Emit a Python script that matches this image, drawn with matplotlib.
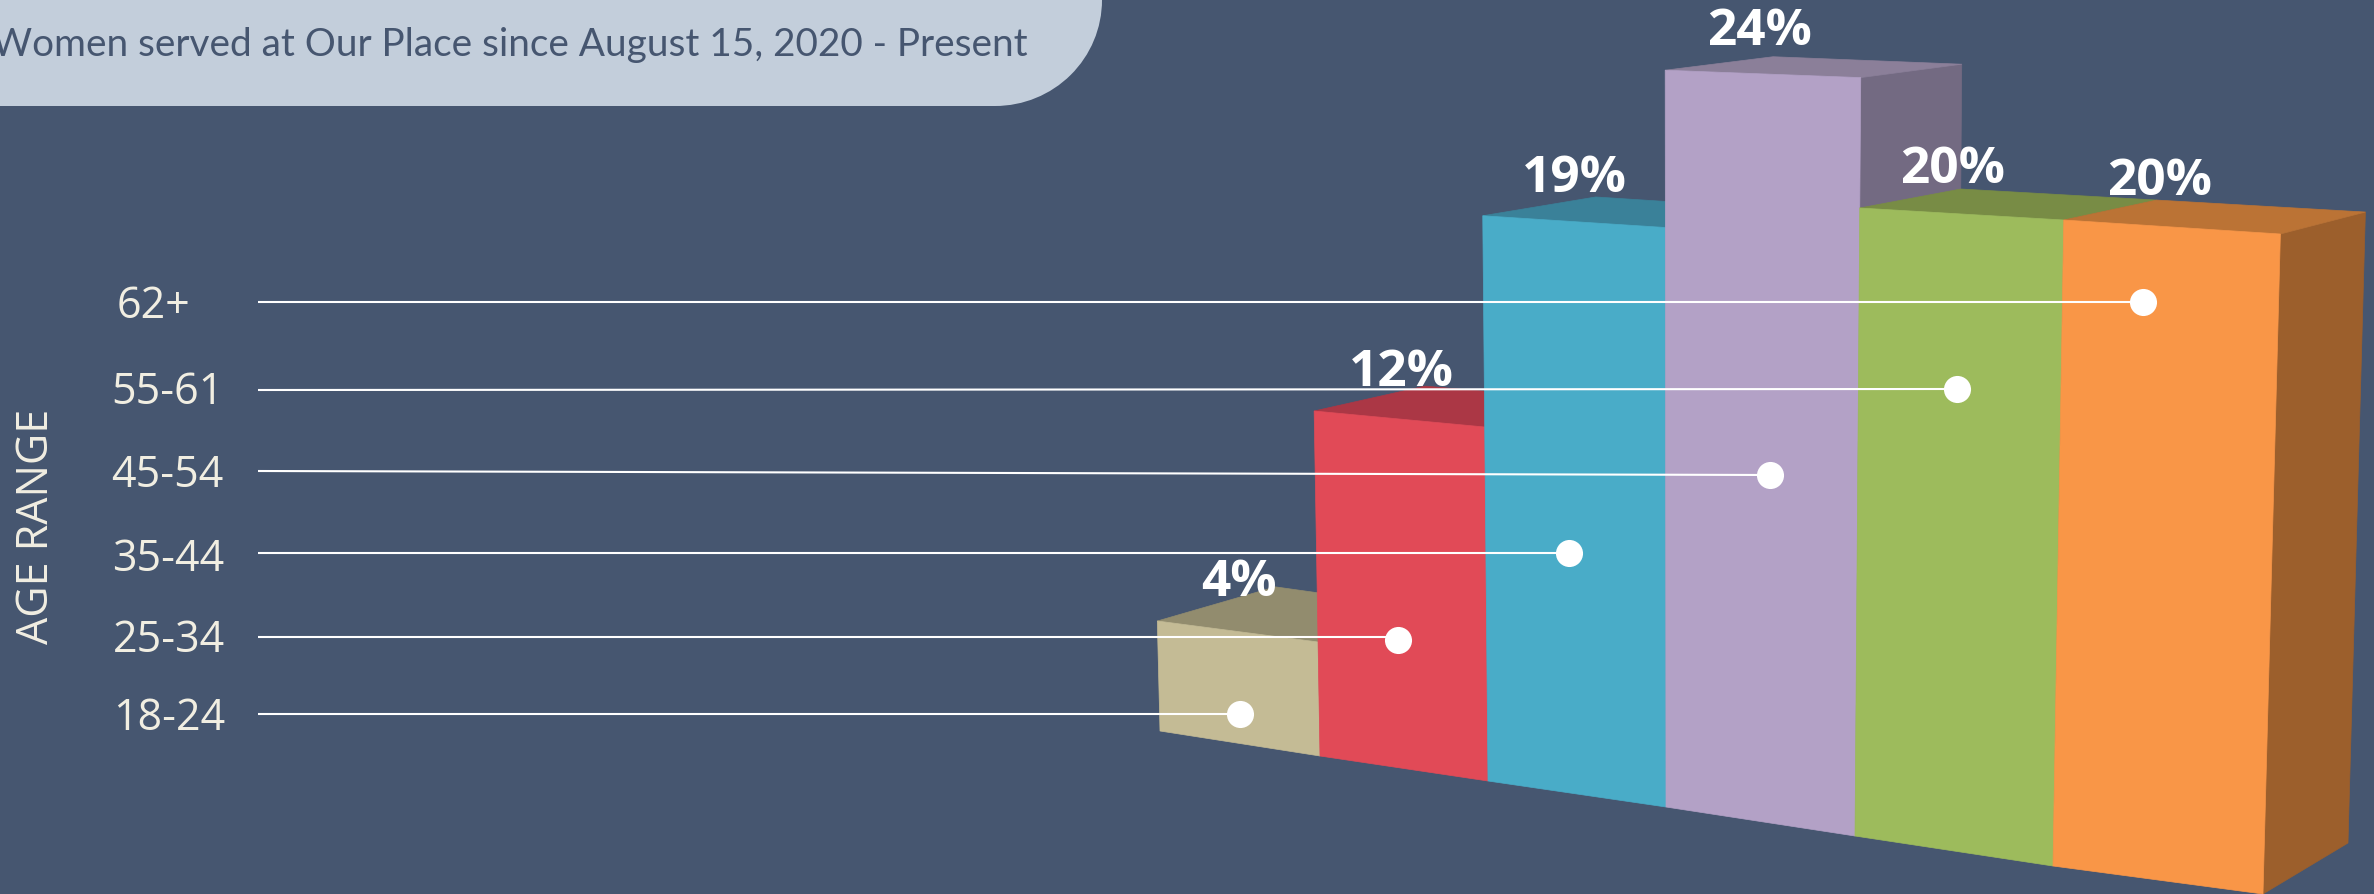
import matplotlib
matplotlib.use('Agg')
import matplotlib.pyplot as plt
from matplotlib.patches import Polygon, Rectangle, Ellipse

# age groups and share of women served, youngest first
age_labels = ['18-24', '25-34', '35-44', '45-54', '55-61', '62+']
pct_values = [4, 12, 19, 24, 20, 20]
pct_labels = ['4%', '12%', '19%', '24%', '20%', '20%']
title_text = 'Women served at Our Place since August 15, 2020 - Present'
axis_title = 'AGE RANGE'

front_colors = ['#C4BB95', '#E14A57', '#49ACC8', '#B3A1C6', '#9DBB5C', '#F99647']
top_colors = ['#928C6E', '#AB3745', '#3A8199', '#8B7F99', '#788C45', '#BB7335']
side_colors = {3: '#736A82', 5: '#9C5F2C'}
BG = '#465670'
PANEL = '#C3CEDB'
CREAM = '#F1EEE2'

# the fake 3d box: one entry per bar edge, in pixels of the figure
edge_x = [1160, 1320, 1488, 1666, 1855, 2053, 2263]
edge_y = [731, 756, 781, 807, 836, 866, 894]
depth_x = [118, 111, 113, 108, 101, 93, 85]
depth_a = [38, 38, 38, 40, 46, 49, 51]
depth_b = [.035, .038, .034, .036, .043, .045, .044]
# pixels per percent at the left and right edge of each bar
scale_l = [27.5, 28.75, 29.75, 30.7, 31.4, 32.3]
scale_r = [28.5, 29.5, 30.5, 31.6, 32.3, 33.0]


def front_pt(edge, h):
    x = edge_x[edge] + (edge_x[edge] - 1690) * 4.6e-5 * h
    return x, edge_y[edge] - h


def back_pt(edge, h):
    x, y = front_pt(edge, h)
    return x + depth_x[edge], y - (depth_a[edge] - depth_b[edge] * h)


fig = plt.figure(figsize=(23.74, 8.94), dpi=100, facecolor=BG)
ax = fig.add_axes([0, 0, 1, 1])
ax.set_xlim(0, 2374)
ax.set_ylim(894, 0)
ax.axis('off')

# header panel, runs off the top left corner
ax.add_patch(Rectangle((0, 0), 995, 106, fc=PANEL, ec='none'))
ax.add_patch(Ellipse((995, 0), 214, 212, fc=PANEL, ec='none'))
ax.text(1028, 56, title_text, ha='right', va='baseline', color=BG,
        fontsize=27.95, family='Lato')

for i, v in enumerate(pct_values):
    hl = v * scale_l[i]
    hr = v * scale_r[i]
    if i in side_colors:
        ax.add_patch(Polygon([front_pt(i + 1, hr), back_pt(i + 1, hr),
                              back_pt(i + 1, 0), front_pt(i + 1, 0)],
                             fc=side_colors[i], ec=side_colors[i], lw=0.5))
    ax.add_patch(Polygon([front_pt(i, hl), back_pt(i, hl),
                          back_pt(i + 1, hr), front_pt(i + 1, hr)],
                         fc=top_colors[i], ec=top_colors[i], lw=0.5))
    ax.add_patch(Polygon([front_pt(i, 0), front_pt(i, hl),
                          front_pt(i + 1, hr), front_pt(i + 1, 0)],
                         fc=front_colors[i], ec=front_colors[i], lw=0.5))

# leader lines, labels and dots
line_y0 = [714, 637, 553, 471, 390, 302]
line_y1 = [714, 637, 553, 475, 389, 302]
dot_x = [1240, 1398, 1569, 1770, 1957, 2143]
dot_y = [714, 640, 553, 475, 389, 302]
label_x = [225, 225, 224, 224, 224, 190]
label_y = [719, 641, 560, 476, 393, 307]
for i, lab in enumerate(age_labels):
    ax.plot([258, dot_x[i]], [line_y0[i], line_y1[i]], color='white', lw=1.5, zorder=5,
            solid_capstyle='butt')
    ax.plot(dot_x[i], dot_y[i], 'o', color='white', ms=19.5, mew=0, zorder=6)
    ax.text(label_x[i], label_y[i], lab, ha='right', va='center', color=CREAM,
            fontsize=31, family='Open Sans')

ax.text(37, 526, axis_title, rotation=90, ha='center', va='center', color=CREAM,
        fontsize=31, family='Open Sans')

# percent labels sit above the bars
pct_x = [1239, 1401, 1574, 1760, 1953, 2160]
pct_y = [583, 373, 179, 32, 170, 182]
for i, lab in enumerate(pct_labels):
    ax.text(pct_x[i], pct_y[i], lab, ha='center', va='center', color='white',
            fontsize=37, family='Open Sans', fontweight='bold', zorder=7)

fig.savefig('out.png', dpi=100, facecolor=BG)
